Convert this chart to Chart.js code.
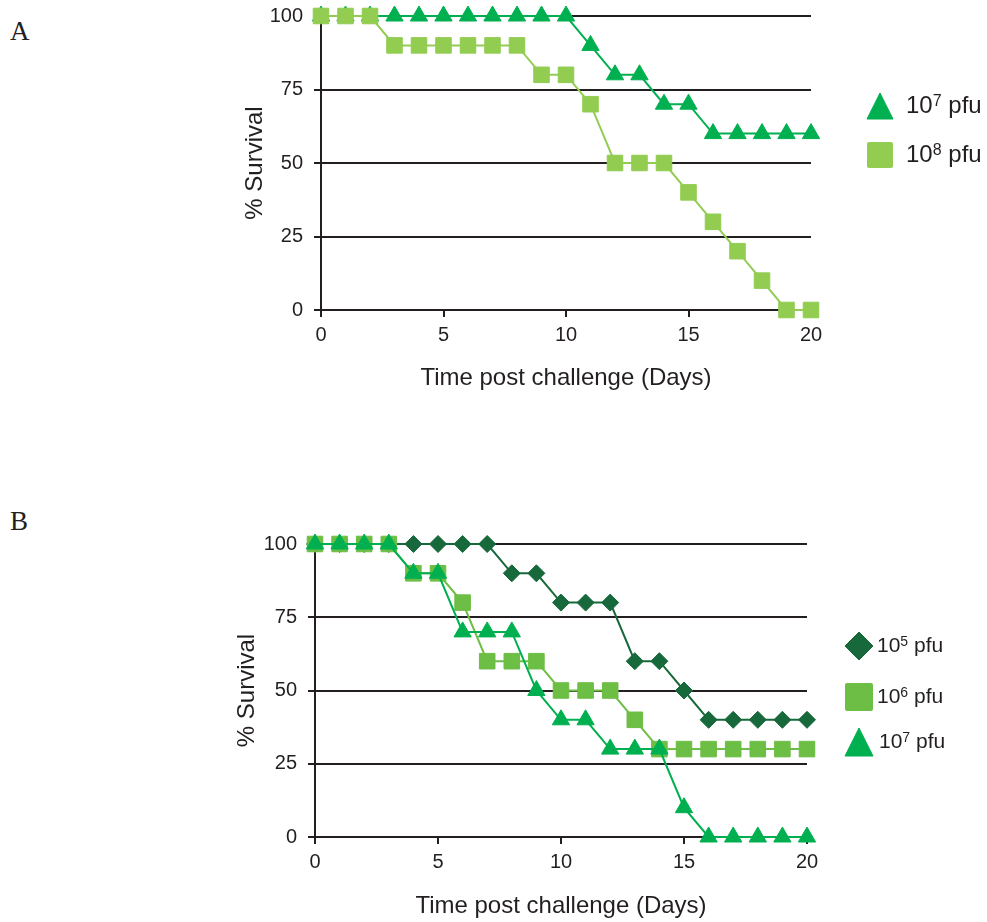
<!DOCTYPE html>
<html>
<head>
<meta charset="utf-8">
<script src="https://cdn.jsdelivr.net/npm/chart.js@4/dist/chart.umd.min.js"></script>
<style>
  body { margin: 0; background: #fff; width: 987px; height: 922px; position: relative; overflow: hidden;
         font-family: "Liberation Sans", Arial, sans-serif; color: #231f20; }
  canvas { position: absolute; left: 0; }
  #chartA { top: -30px; }
  #chartB { top: 500px; }
  .panel { position: absolute; left: 10px; font-family: "Liberation Serif", "Times New Roman", serif; font-size: 27px; }
  .leg { position: absolute; line-height: 1; white-space: nowrap; }
  .leg span { position: absolute; }
  .leg sup { vertical-align: 0.45em; line-height: 0; }
</style>
</head>
<body>
<div class="panel" style="top:16px">A</div>
<div class="panel" style="top:506px">B</div>
<canvas id="chartA" width="987" height="430"></canvas>
<canvas id="chartB" width="987" height="422"></canvas>
<div id="legendA"></div>
<div id="legendB"></div>
<script>
// Days post challenge (x values)
const days = [0, 1, 2, 3, 4, 5, 6, 7, 8, 9, 10, 11, 12, 13, 14, 15, 16, 17, 18, 19, 20];
const xTicks = [0, 5, 10, 15, 20];
const yTicks = [0, 25, 50, 75, 100];

// Panel A - % survival
const survivalA_1e7 = [100, 100, 100, 100, 100, 100, 100, 100, 100, 100, 100, 90, 80, 80, 70, 70, 60, 60, 60, 60, 60];
const survivalA_1e8 = [100, 100, 100, 90, 90, 90, 90, 90, 90, 80, 80, 70, 50, 50, 50, 40, 30, 20, 10, 0, 0];

// Panel B - % survival
const survivalB_1e5 = [100, 100, 100, 100, 100, 100, 100, 100, 90, 90, 80, 80, 80, 60, 60, 50, 40, 40, 40, 40, 40];
const survivalB_1e6 = [100, 100, 100, 100, 90, 90, 80, 60, 60, 60, 50, 50, 50, 40, 30, 30, 30, 30, 30, 30, 30];
const survivalB_1e7 = [100, 100, 100, 100, 90, 90, 70, 70, 70, 50, 40, 40, 30, 30, 30, 10, 0, 0, 0, 0, 0];

const INK = '#231f20';
const GREEN = '#00b050';
const LIGHT_GREEN = '#92cd52';
const DARK_GREEN = '#17683a';
const MID_GREEN = '#6dbe45';

function pts(vals) {
    return days.map((d, i) => ({ x: d, y: vals[i] }));
}

function series(label, vals, color, style, radius, order) {
    return {
        label: label,
        data: pts(vals),
        borderColor: color,
        backgroundColor: color,
        borderWidth: 2,
        pointStyle: style,
        pointRadius: radius,
        pointHoverRadius: radius,
        pointBackgroundColor: color,
        pointBorderColor: color,
        pointBorderWidth: 1,
        tension: 0,
        clip: false,
        order: order
    };
}

function makeChart(id, datasets, pad, xHeight, yTitlePad, xTitlePad) {
    const ctx = document.getElementById(id).getContext('2d');
    return new Chart(ctx, {
        type: 'line',
        data: { datasets: datasets },
        options: {
            responsive: false,
            animation: false,
            events: [],
            layout: { padding: pad },
            plugins: { legend: { display: false }, tooltip: { enabled: false } },
            scales: {
                x: {
                    type: 'linear',
                    min: 0, max: 20,
                    afterBuildTicks: (s) => { s.ticks = xTicks.map(v => ({ value: v })); },
                    afterFit: (s) => { s.height = xHeight; },
                    grid: { drawOnChartArea: false, drawTicks: true, tickLength: 7, color: INK, lineWidth: 2 },
                    border: { display: true, color: INK, width: 2 },
                    ticks: { color: INK, font: { family: 'Liberation Sans, Arial', size: 20 }, padding: 6 },
                    title: { display: true, text: 'Time post challenge (Days)', color: INK,
                             font: { family: 'Liberation Sans, Arial', size: 24 }, padding: { top: 0, bottom: xTitlePad } }
                },
                y: {
                    type: 'linear',
                    min: 0, max: 100,
                    afterBuildTicks: (s) => { s.ticks = yTicks.map(v => ({ value: v })); },
                    afterFit: (s) => { s.width = 90; },
                    grid: { drawTicks: true, tickLength: 7, color: INK, lineWidth: 2 },
                    border: { display: true, color: INK, width: 2 },
                    ticks: { color: INK, font: { family: 'Liberation Sans, Arial', size: 20 }, padding: 11 },
                    title: { display: true, text: '% Survival', color: INK,
                             font: { family: 'Liberation Sans, Arial', size: 24 }, padding: { top: yTitlePad, bottom: 0 } }
                }
            }
        }
    });
}

makeChart('chartA', [
    series('10^7 pfu', survivalA_1e7, GREEN, 'triangle', 10, 1),
    series('10^8 pfu', survivalA_1e8, LIGHT_GREEN, 'rect', 11, 0)
], { left: 231, right: 176, top: 46, bottom: 0 }, 90, 10, 7);

makeChart('chartB', [
    series('10^5 pfu', survivalB_1e5, DARK_GREEN, 'rectRot', 8.5, 2),
    series('10^6 pfu', survivalB_1e6, MID_GREEN, 'rect', 11, 1),
    series('10^7 pfu', survivalB_1e7, GREEN, 'triangle', 10, 0)
], { left: 225, right: 180, top: 44, bottom: 0 }, 85, 8, 1);

// HTML legends (superscript exponents)
const legendA = [
    { exp: '7', color: GREEN, shape: 'tri', x: 866, y: 92, size: 28, tx: 906, fs: 24 },
    { exp: '8', color: LIGHT_GREEN, shape: 'sq', x: 866, y: 141, size: 28, tx: 906, fs: 24 }
];
const legendB = [
    { exp: '5', color: DARK_GREEN, shape: 'dia', x: 844, y: 631, size: 30, tx: 877, fs: 21 },
    { exp: '6', color: MID_GREEN, shape: 'sq', x: 844, y: 682, size: 30, tx: 877, fs: 21 },
    { exp: '7', color: GREEN, shape: 'tri', x: 844, y: 727, size: 30, tx: 879, fs: 21 }
];

function shapeSvg(shape, color, s) {
    let body;
    if (shape === 'tri') body = `<polygon points="${s/2},1 ${s-1},${s-1} 1,${s-1}" fill="${color}" stroke="${color}" stroke-linejoin="round"/>`;
    else if (shape === 'sq') body = `<rect x="1" y="1" width="${s-2}" height="${s-2}" rx="2" fill="${color}"/>`;
    else body = `<polygon points="${s/2},1 ${s-1},${s/2} ${s/2},${s-1} 1,${s/2}" fill="${color}" stroke="${color}" stroke-linejoin="round"/>`;
    return `<svg width="${s}" height="${s}" viewBox="0 0 ${s} ${s}">${body}</svg>`;
}

function drawLegend(id, items) {
    const el = document.getElementById(id);
    items.forEach(it => {
        const d = document.createElement('div');
        d.className = 'leg';
        d.style.left = '0px';
        d.style.top = '0px';
        d.innerHTML = `<div style="position:absolute;left:${it.x}px;top:${it.y}px">${shapeSvg(it.shape, it.color, it.size)}</div>` +
            `<span style="left:${it.tx}px;top:${it.y + it.size / 2 - it.fs * 0.55}px;font-size:${it.fs}px">10<sup style="font-size:${Math.round(it.fs * 0.65)}px">${it.exp}</sup> pfu</span>`;
        el.appendChild(d);
    });
}

drawLegend('legendA', legendA);
drawLegend('legendB', legendB);
</script>
</body>
</html>
